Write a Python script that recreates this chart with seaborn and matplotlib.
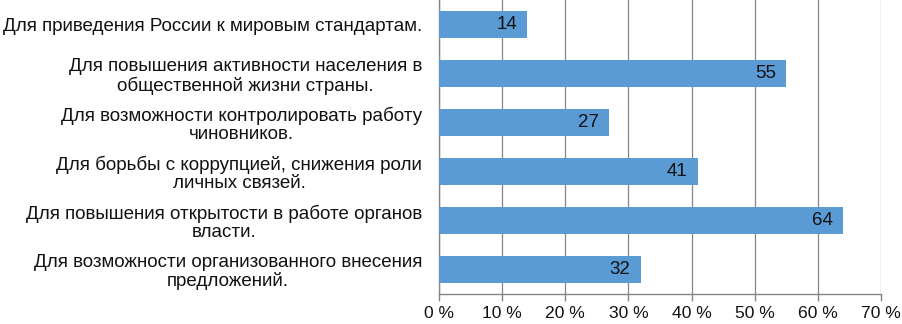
import matplotlib
matplotlib.use("Agg")
import matplotlib.pyplot as plt
import seaborn as sns
import pandas as pd
from matplotlib.transforms import offset_copy

categories = [
    "Для приведения России к мировым стандартам.",
    "Для повышения активности населения в\nобщественной жизни страны.",
    "Для возможности контролировать работу\nчиновников.",
    "Для борьбы с коррупцией, снижения роли\nличных связей.",
    "Для повышения открытости в работе органов\nвласти.",
    "Для возможности организованного внесения\nпредложений.",
]
values = [14, 55, 27, 41, 64, 32]
xticks = [0, 10, 20, 30, 40, 50, 60, 70]
xticklabels = ["0 %", "10 %", "20 %", "30 %", "40 %", "50 %", "60 %", "70 %"]

sns.set_theme(style="white")
plt.rcParams["font.family"] = ["Liberation Sans", "DejaVu Sans"]

df = pd.DataFrame({"cat": categories, "val": values})

fig = plt.figure(figsize=(9.02, 3.24), dpi=100)
ax = fig.add_axes([439 / 902, 1 - 294 / 324, (881 - 439) / 902, 294 / 324])

sns.barplot(data=df, y="cat", x="val", orient="h", color="#5B9BD5",
            width=0.57, saturation=1, linewidth=0, edgecolor="none",
            ax=ax, zorder=3)

ax.set_xlim(0, 70)
ax.set_ylim(5.5, -0.5)
ax.set_xticks(xticks)
ax.set_xticklabels(xticklabels, fontsize=12.6)
ax.set_xlabel("")
ax.set_ylabel("")
ax.set_yticks(range(len(categories)))
ax.set_yticklabels(categories, fontsize=13.5, multialignment="center", linespacing=1.1,
                   color="#111111")
ax.tick_params(axis="y", length=0, pad=12)
ax.tick_params(axis="x", length=5, width=1, color="#868686", pad=3.5, direction="out",
               bottom=True, labelcolor="#111111")

ax.grid(axis="x", color="#868686", linewidth=0.9, zorder=0)
ax.set_axisbelow(True)
for s in ["top", "right"]:
    ax.spines[s].set_visible(False)
for s in ["left", "bottom"]:
    ax.spines[s].set_visible(True)
    ax.spines[s].set_color("#868686")
    ax.spines[s].set_linewidth(1.0)

trans = offset_copy(ax.transData, fig=fig, x=-7.5, y=0, units="points")
for cont in ax.containers:
    for rect, v in zip(cont.patches, values):
        ax.text(rect.get_x() + rect.get_width(), rect.get_y() + rect.get_height() / 2,
                str(v), transform=trans, ha="right", va="center",
                fontsize=13.5, color="#111111", zorder=5)

fig.savefig("out.png", dpi=100)
